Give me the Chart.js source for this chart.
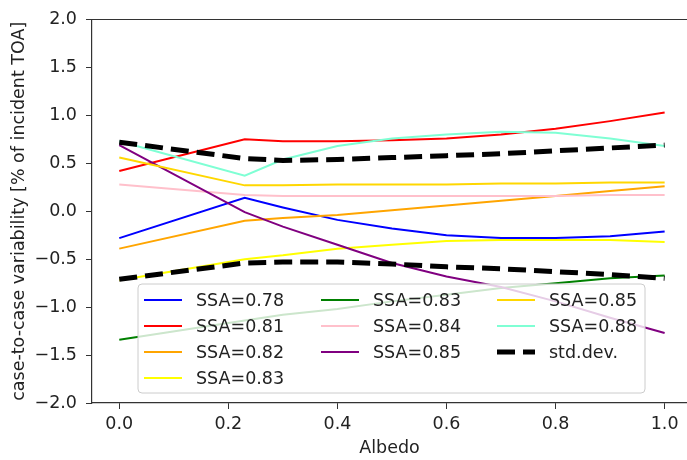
<!DOCTYPE html>
<html>
<head>
<meta charset="utf-8">
<script src="https://cdn.jsdelivr.net/npm/chart.js@4/dist/chart.umd.min.js"></script>
<style>
  html, body { margin: 0; padding: 0; background: #fff; overflow: hidden; }
  #wrap { width: 687px; height: 460px; }
</style>
</head>
<body>
<div id="wrap"><canvas id="chart-albedo" width="687" height="460"></canvas></div>
<script>
// albedo values (x) and case-to-case variability per SSA (% of incident TOA)
const albedo = [0, 0.23, 0.3, 0.4, 0.5, 0.6, 0.7, 0.8, 0.9, 1.0];

const ssa078 = [-0.28, 0.14, 0.04, -0.09, -0.18, -0.25, -0.28, -0.28, -0.26, -0.21];
const ssa081 = [0.42, 0.75, 0.73, 0.73, 0.74, 0.76, 0.80, 0.86, 0.94, 1.03];
const ssa082 = [-0.39, -0.10, -0.07, -0.04, 0.01, 0.06, 0.11, 0.16, 0.21, 0.26];
const ssa083y = [-0.72, -0.50, -0.46, -0.39, -0.35, -0.31, -0.30, -0.30, -0.30, -0.32];
const ssa083g = [-1.34, -1.14, -1.08, -1.02, -0.94, -0.87, -0.80, -0.75, -0.70, -0.67];
const ssa084 = [0.28, 0.17, 0.16, 0.16, 0.16, 0.16, 0.16, 0.16, 0.17, 0.17];
const ssa085p = [0.69, -0.01, -0.16, -0.35, -0.54, -0.68, -0.79, -0.94, -1.11, -1.27];
const ssa085 = [0.56, 0.27, 0.27, 0.28, 0.28, 0.28, 0.29, 0.29, 0.30, 0.30];
const ssa088 = [0.73, 0.37, 0.54, 0.68, 0.76, 0.80, 0.83, 0.82, 0.76, 0.68];
const stdUpper = [0.72, 0.55, 0.53, 0.54, 0.56, 0.58, 0.60, 0.63, 0.66, 0.69];
const stdLower = [-0.71, -0.54, -0.53, -0.53, -0.55, -0.58, -0.60, -0.63, -0.66, -0.70];

const xTicks = [0, 0.2, 0.4, 0.6, 0.8, 1.0];
const yTicks = [-2, -1.5, -1, -0.5, 0, 0.5, 1, 1.5, 2];

const FONT = "DejaVu Sans";
const FSIZE = 17.5;
const STD_DASH = [18, 8];

function pts(values) {
  return albedo.map((a, i) => ({ x: a, y: values[i] }));
}

// label, colour, values (legend order, column by column like matplotlib ncol=3)
const series = [
  ["SSA=0.78", "#0000ff", ssa078],
  ["SSA=0.81", "#ff0000", ssa081],
  ["SSA=0.82", "#ffa500", ssa082],
  ["SSA=0.83", "#ffff00", ssa083y],
  ["SSA=0.83", "#008000", ssa083g],
  ["SSA=0.84", "#ffc0cb", ssa084],
  ["SSA=0.85", "#800080", ssa085p],
  ["SSA=0.85", "#ffd700", ssa085],
  ["SSA=0.88", "#7fffd4", ssa088],
];

var datasets = series.map((s, i) => ({
  label: s[0],
  data: pts(s[2]),
  borderColor: s[1],
  borderWidth: 2,
  pointRadius: 0,
  tension: 0,
  fill: false,
  order: 20 - i,
}));

datasets.push({
  label: "std.dev.",
  data: pts(stdUpper),
  borderColor: "#000",
  borderWidth: 5,
  borderDash: STD_DASH,
  pointRadius: 0,
  tension: 0,
  fill: false,
  order: 2,
});
datasets.push({
  label: "std.dev._lower",
  data: pts(stdLower),
  borderColor: "#000",
  borderWidth: 5,
  borderDash: STD_DASH,
  pointRadius: 0,
  tension: 0,
  fill: false,
  order: 1,
});

// legend entries: [label, colour, dashed]
const legendItems = series.map((s) => [s[0], s[1], false]).concat([["std.dev.", "#000", true]]);

// top frame line (right side is cut off in the original) + matplotlib style legend
const mplFrame = {
  id: "mplFrame",
  afterDraw(chart) {
    const ctx = chart.ctx;
    const a = chart.chartArea;
    ctx.save();
    ctx.strokeStyle = "#333";
    ctx.lineWidth = 1.2;
    ctx.beginPath();
    ctx.moveTo(a.left, a.top);
    ctx.lineTo(chart.width, a.top);
    ctx.stroke();

    // legend box
    const bx = 138, by = 284, bw = 507, bh = 109;
    ctx.beginPath();
    ctx.roundRect(bx, by, bw, bh, 4);
    ctx.fillStyle = "rgba(255,255,255,0.8)";
    ctx.fill();
    ctx.strokeStyle = "#cccccc";
    ctx.lineWidth = 1;
    ctx.stroke();

    const colX = [144, 321, 497];
    const rowY = [300, 326, 352, 378];
    const perCol = [4, 3, 3];
    ctx.font = FSIZE + "px '" + FONT + "'";
    ctx.textBaseline = "middle";
    ctx.textAlign = "left";
    let k = 0;
    for (let c = 0; c < 3; c++) {
      for (let r = 0; r < perCol[c]; r++) {
        const item = legendItems[k++];
        const x0 = colX[c], y0 = rowY[r];
        ctx.beginPath();
        ctx.strokeStyle = item[1];
        if (item[2]) {
          ctx.lineWidth = 5;
          ctx.setLineDash(STD_DASH);
        } else {
          ctx.lineWidth = 2;
          ctx.setLineDash([]);
        }
        ctx.moveTo(x0, y0);
        ctx.lineTo(x0 + 38, y0);
        ctx.stroke();
        ctx.setLineDash([]);
        ctx.fillStyle = "#222";
        ctx.fillText(item[0], x0 + 52, y0 + 1);
      }
    }
    ctx.restore();
  },
};

var ctx = document.getElementById("chart-albedo").getContext("2d");
var chart1 = new Chart(ctx, {
  type: "line",
  data: { datasets: datasets },
  plugins: [mplFrame],
  options: {
    responsive: false,
    animation: false,
    layout: { padding: { top: 15, right: 0, left: 0, bottom: 0 } },
    plugins: {
      legend: { display: false },
      tooltip: { enabled: false },
    },
    scales: {
      x: {
        type: "linear",
        min: -0.05,
        max: 1.041,
        afterFit: function (scale) {
          scale.height = 57;
          scale.paddingLeft = 0;
          scale.paddingRight = 0;
        },
        afterBuildTicks: function (scale) {
          scale.ticks = xTicks.map((v) => ({ value: v }));
        },
        border: { display: true, color: "#333", width: 1.2 },
        grid: {
          display: true,
          drawOnChartArea: false,
          drawTicks: true,
          tickLength: 6,
          color: "#333",
        },
        ticks: {
          padding: 5,
          color: "#222",
          font: { size: FSIZE, family: FONT },
          maxRotation: 0,
          callback: function (value) {
            return value.toFixed(1);
          },
        },
        title: {
          display: true,
          text: "Albedo",
          color: "#222",
          font: { size: FSIZE, family: FONT },
          padding: { top: 0, bottom: 1 },
        },
      },
      y: {
        type: "linear",
        min: -2,
        max: 2,
        afterFit: function (scale) {
          scale.width = 92;
        },
        afterBuildTicks: function (scale) {
          scale.ticks = yTicks.map((v) => ({ value: v }));
        },
        border: { display: true, color: "#333", width: 1.2 },
        grid: {
          display: true,
          drawOnChartArea: false,
          drawTicks: true,
          tickLength: 6,
          color: "#333",
        },
        ticks: {
          padding: 9,
          color: "#222",
          font: { size: FSIZE, family: FONT },
          callback: function (value) {
            return value.toFixed(1).replace("-", "\u2212");
          },
        },
        title: {
          display: true,
          text: "case-to-case variability [% of incident TOA]",
          color: "#222",
          font: { size: FSIZE, family: FONT },
          padding: { top: 8.5, bottom: 0 },
        },
      },
    },
  },
});
</script>
</body>
</html>
